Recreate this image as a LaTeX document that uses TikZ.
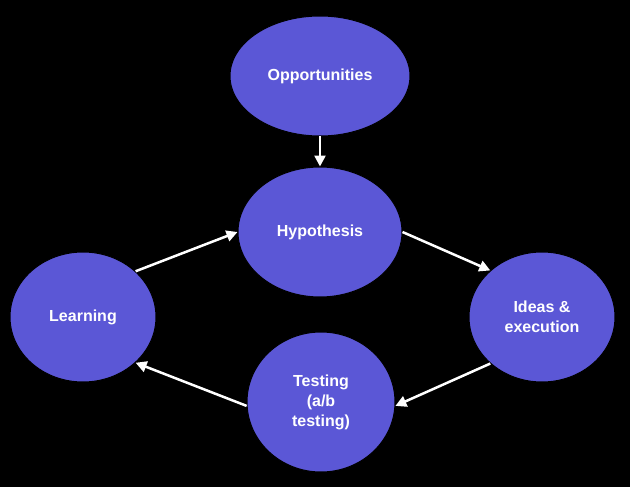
\documentclass[tikz,border=0pt]{standalone}
\usepackage{fontspec}
\setmainfont{Liberation Sans}
\usetikzlibrary{shapes.geometric,arrows.meta}
\definecolor{nodeblue}{HTML}{5B57D6}
\begin{document}
\begin{tikzpicture}[x=1pt,y=-1pt,
  blob/.style={ellipse,fill=nodeblue,draw=black,line width=1pt,inner sep=0pt,text=white,font=\bfseries\fontsize{16}{20}\selectfont,align=center},
  arr/.style={draw=white,line width=2.5pt,-{Triangle[length=11pt,width=11pt]}}]
\fill[black] (0,0) rectangle (630,487);
\node[blob,minimum width=180,minimum height=120] (opp) at (320,76) {Opportunities};
\node[blob,minimum width=164,minimum height=130] (hyp) at (320,232) {Hypothesis};
\node[blob,minimum width=146,minimum height=130] (ide) at (542,317) {Ideas \&\\execution};
\node[blob,minimum width=148,minimum height=140] (tes) at (321,402) {Testing\\(a/b\\testing)};
\node[blob,minimum width=146,minimum height=130] (lea) at (83,317) {Learning};
\draw[arr] (opp) -- (hyp);
\draw[arr] (hyp.0) -- (ide.138);
\draw[arr] (ide.-138) -- (tes.-3);
\draw[arr] (tes.183) -- (lea.-41);
\draw[arr] (lea.41) -- (hyp.180);
\end{tikzpicture}
\end{document}
